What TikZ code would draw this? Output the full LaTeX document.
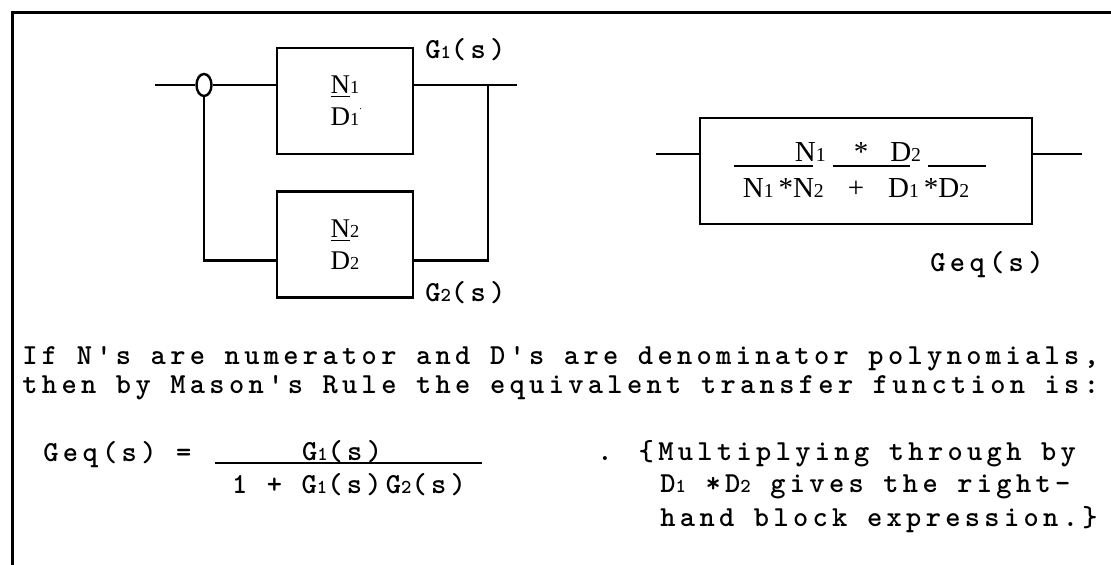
\documentclass[tikz,border=0pt]{standalone}
\usepackage{fontspec}
\newfontfamily\printfont{lmmonolt10-bold.otf}[LetterSpace=15]
\newfontfamily\blockfont{Liberation Serif}
\usepackage{tikz}
\usetikzlibrary{shapes.geometric, positioning, calc}
\newcommand{\subdig}[1]{\scalebox{0.68}{#1}}

\begin{document}
\begin{tikzpicture}[x=0.5pt, y=-0.5pt,
        block/.style={rectangle, draw, line width=1.3pt, minimum width=68pt, minimum height=53pt, inner sep=0pt, align=center, font=\blockfont\fontsize{13.5pt}{16pt}\selectfont},
        boxtext/.style={inner sep=0pt, anchor=base, font=\blockfont\fontsize{14.5pt}{16pt}\selectfont},
        junction/.style={ellipse, draw, line width=1.2pt, minimum width=7.5pt, minimum height=11pt, inner sep=0pt},
        wire/.style={draw, line width=1.3pt},
        prose/.style={inner sep=0pt, anchor=base west, font=\printfont\fontsize{14.5pt}{16pt}\selectfont},
        frac/.style={prose, anchor=base}]

    \useasboundingbox (0,0) rectangle (1111,565);
    \draw [line width=1.5pt] (1111,13) -| (12,565);

    % two blocks in parallel
    \node [block] (g1box) at (345,101) {\underline{N}\subdig{1}\\D\subdig{1}\rlap{\raisebox{1.3ex}{\tiny.}}};
    \node [block, below=17.5pt of g1box] (g2box) {\underline{N}\subdig{2}\\D\subdig{2}};
    \node [junction] (sum) at (204,85) {};
    \coordinate (in) at (155,85);
    \coordinate (out) at (517,85);
    \coordinate (tap) at (488,85);

    \path [wire] (in) -- (sum.west);
    \path [wire] (sum.east) -- (sum.east -| g1box.west);
    \path [wire] (sum.east -| g1box.east) -- (out);
    \path [wire] (sum.south) |- ([yshift=-8pt]g2box.west);
    \path [wire] ([yshift=-8pt]g2box.east) -| (tap);

    \node [prose] (g1lab) at (425,59) {G\subdig{1}(s)};
    \node [prose] (g2lab) at (425,302) {G\subdig{2}(s)};

    % equivalent block
    \node [block, minimum width=166pt] (geqbox) at (866,171) {};
    \coordinate (geqin) at (656,154);
    \coordinate (geqout) at (1082,154);
    \path [wire] (geqin) -- (geqin -| geqbox.west);
    \path [wire] (geqout -| geqbox.east) -- (geqout);

    \node [boxtext] (geqnum) at (858,162) {N\subdig{1}\hspace{14pt}*\hspace{11pt}D\subdig{2}};
    \node [boxtext] (geqden) at (856,198) {N\subdig{1}\,*N\subdig{2}\hspace{12pt}+\hspace{12pt}D\subdig{1}\,*D\subdig{2}};
    \foreach \a/\b in {734/813, 833/910, 928/986}
        \draw [line width=1pt] (\a,166) -- (\b,166);
    \node [prose] (geqlab) at (930,272) {Geq(s)};

    % text below
    \node [prose] (line1) at (22,365) {If N's are numerator and D's are denominator polynomials,};
    \node [prose] (line2) at (22,394) {then by Mason's Rule the equivalent transfer function is:};

    \node [prose] (lhs) at (43,462) {Geq(s) =};
    \node [frac] (fnum) at (342,460) {G\subdig{1}(s)};
    \draw [line width=1pt] (215,463) -- (482,463);
    \node [frac] (fden) at (349,494) {1 + G\subdig{1}(s)G\subdig{2}(s)};

    \node [prose] (note1) at (597,460) {. \{Multiplying through by};
    \node [prose] (note2) at (660,493) {D\subdig{1} *D\subdig{2} gives the right-};
    \node [prose] (note3) at (660,526) {hand block expression.\}};
\end{tikzpicture}
\end{document}
